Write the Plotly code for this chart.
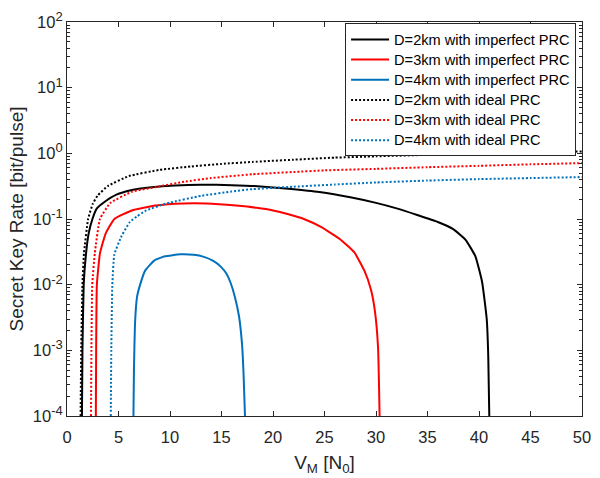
import plotly.graph_objects as go

# ---------------- data ----------------
x_2km_imp = [1.45, 1.5, 1.62, 1.85, 2.1, 2.47, 2.9, 3.6, 4.8, 6.2, 8.2, 10.5, 13.0, 16.0, 18.5,
             21.5, 24.5, 27.5, 30.0, 32.0, 34.0, 36.0, 37.5, 38.7, 39.65, 40.3, 40.75, 40.9, 41.0]
y_2km_imp = [1e-4, 1e-3, 0.01, 0.03, 0.06, 0.1, 0.145, 0.18, 0.235, 0.275, 0.305, 0.325, 0.333, 0.328, 0.316,
             0.288, 0.257, 0.214, 0.176, 0.145, 0.115, 0.09, 0.07, 0.048, 0.027, 0.011, 0.003, 8e-4, 1e-4]

x_3km_imp = [2.8, 2.83, 2.9, 3.2, 3.75, 4.6, 6.3, 8.6, 11.3, 13.5, 16.4, 18.4, 20.0, 21.5, 23.0,
             24.7, 26.6, 27.9, 28.85, 29.5, 29.9, 30.2, 30.35]
y_3km_imp = [1e-4, 1e-3, 0.01, 0.03, 0.06, 0.1, 0.135, 0.16, 0.172, 0.172, 0.16, 0.148, 0.135, 0.118, 0.1,
             0.075, 0.048, 0.031, 0.0166, 0.0085, 0.0039, 0.0011, 1e-4]

x_4km_imp = [6.45, 6.5, 6.6, 6.8, 7.1, 7.6, 8.5, 9.5, 11.0, 12.3, 13.3, 14.2, 14.9, 15.5, 15.9,
             16.3, 16.7, 17.0, 17.15, 17.28]
y_4km_imp = [1e-4, 5e-4, 0.0025, 0.0065, 0.01, 0.0165, 0.0235, 0.027, 0.029, 0.0285, 0.0265, 0.023, 0.019,
             0.0145, 0.0105, 0.0065, 0.0033, 0.0012, 4e-4, 1e-4]

x_2km_ideal = [1.32, 1.38, 1.5, 1.65, 2.05, 2.5, 3.0, 4.0, 6.0, 9.0, 12.0, 15.0, 18.0, 22.0, 26.0,
               30.0, 35.0, 40.0, 45.0, 50.0]
y_2km_ideal = [1e-4, 1e-3, 0.01, 0.03, 0.1, 0.17, 0.23, 0.32, 0.45, 0.56, 0.63, 0.69, 0.74, 0.8, 0.86,
               0.9, 0.95, 1.0, 1.04, 1.07]

x_3km_ideal = [2.33, 2.37, 2.45, 2.7, 3.2, 4.2, 6.3, 8.8, 11.4, 14.0, 18.0, 22.0, 25.0, 30.0, 35.0,
               40.0, 45.0, 50.0]
y_3km_ideal = [1e-4, 1e-3, 0.01, 0.03, 0.1, 0.175, 0.26, 0.31, 0.37, 0.42, 0.48, 0.52, 0.55, 0.58, 0.615,
               0.645, 0.68, 0.71]

x_4km_ideal = [4.25, 4.3, 4.4, 4.6, 5.3, 6.1, 6.8, 7.7, 9.5, 10.0, 13.0, 16.0, 18.0, 22.0, 26.0,
               30.0, 35.0, 40.0, 45.0, 50.0]
y_4km_ideal = [1e-4, 1e-3, 0.01, 0.029, 0.055, 0.09, 0.11, 0.135, 0.17, 0.178, 0.225, 0.262, 0.285, 0.31,
               0.335, 0.36, 0.385, 0.405, 0.42, 0.435]

series_names = ["D=2km with imperfect PRC", "D=3km with imperfect PRC", "D=4km with imperfect PRC",
                "D=2km with ideal PRC", "D=3km with ideal PRC", "D=4km with ideal PRC"]

y_tick_vals = [1e-4, 1e-3, 1e-2, 1e-1, 1e0, 1e1, 1e2]
y_tick_exp = ["-4", "-3", "-2", "-1", "0", "1", "2"]
y_tick_text = ["10<sup><span style='font-size:13px'>" + e + "</span></sup>" for e in y_tick_exp]
y_minor_vals = [m * d for d in y_tick_vals[:-1] for m in range(2, 10)]
x_tick_vals = [0, 5, 10, 15, 20, 25, 30, 35, 40, 45, 50]

# ---------------- figure ----------------
BLACK = "#000000"
RED = "#FF0000"
BLUE = "#0072BD"
AX = "#262626"
FONT = "Liberation Sans, Arial, sans-serif"

data = [
    (x_2km_imp, y_2km_imp, BLACK, "solid"),
    (x_3km_imp, y_3km_imp, RED, "solid"),
    (x_4km_imp, y_4km_imp, BLUE, "solid"),
    (x_2km_ideal, y_2km_ideal, BLACK, "2px,2px"),
    (x_3km_ideal, y_3km_ideal, RED, "2px,2px"),
    (x_4km_ideal, y_4km_ideal, BLUE, "2px,2px"),
]

fig = go.Figure()
for (xs, ys, col, dash), name in zip(data, series_names):
    fig.add_trace(go.Scatter(x=xs, y=ys, mode="lines",
                             name="<span style='font-size:14.6px'>" + name + "</span>",
                             line=dict(color=col, width=2, dash=dash, shape="spline", smoothing=0.4)))

fig.update_layout(
    width=600, height=478,
    margin=dict(l=67, r=9, t=9, b=60),
    paper_bgcolor="white", plot_bgcolor="white",
    font=dict(family=FONT, color=AX, size=16),
    showlegend=True,
    legend=dict(x=0.9885, y=0.659, xanchor="right", yanchor="bottom",
                bgcolor="white", bordercolor=AX, borderwidth=1,
                font=dict(family=FONT, size=13.2, color="#000000"),
                itemwidth=38, tracegroupgap=0),
)

fig.update_xaxes(
    range=[0, 50], tickvals=x_tick_vals,
    showline=True, linecolor=AX, linewidth=1, mirror="ticks",
    ticks="inside", ticklen=5, tickcolor=AX, tickwidth=1,
    showgrid=False, zeroline=False, ticklabelstandoff=6, ticklabeloverflow="allow",
    tickfont=dict(size=16.5, color=AX, family=FONT),
    title=dict(text="V<sub>M</sub> [N<sub>0</sub>]", font=dict(size=19, color=AX, family=FONT), standoff=10),
)
fig.update_yaxes(
    type="log", range=[-4.0001, 2.0001], tickvals=y_tick_vals, ticktext=y_tick_text,
    showline=True, linecolor=AX, linewidth=1, mirror="ticks",
    ticks="inside", ticklen=5, tickcolor=AX, tickwidth=1,
    minor=dict(tickmode="array", tickvals=y_minor_vals, ticks="inside", ticklen=3,
               tickcolor=AX, tickwidth=1, showgrid=False),
    showgrid=False, zeroline=False, ticklabeloverflow="allow",
    tickfont=dict(size=16.5, color=AX, family=FONT),
    title=dict(text="Secret Key Rate [bit/pulse]", font=dict(size=19, color=AX, family=FONT), standoff=4),
)

fig.write_html("out.html", config={"displayModeBar": False},
               post_script="document.body.style.margin='0px';")
